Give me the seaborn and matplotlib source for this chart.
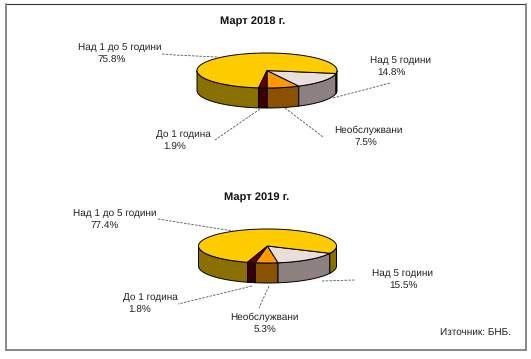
import numpy as np
import pandas as pd
import seaborn as sns
import matplotlib
matplotlib.use("Agg")
import matplotlib.pyplot as plt

# ---- data ----
categories = ["Необслужвани", "Над 5 години", "Над 1 до 5 години", "До 1 година"]
values_2018 = [7.5, 14.8, 75.8, 1.9]
values_2019 = [5.3, 15.5, 77.4, 1.8]
titles = ["Март 2018 г.", "Март 2019 г."]
source = "Източник: БНБ."

top_colors = ["#FF9900", "#E8DEDA", "#FFCC00", "#660000"]
side_colors = ["#8A5200", "#8C8080", "#8A7000", "#3A0000"]

sns.set_theme(style="white")
plt.rcParams["font.family"] = ["Liberation Sans", "DejaVu Sans"]
plt.rcParams["text.hinting"] = "none"

df = pd.DataFrame({
    "category": categories * 2,
    "share": values_2018 + values_2019,
    "period": [titles[0]] * 4 + [titles[1]] * 4,
})

fig = plt.figure(figsize=(5.31, 3.59), dpi=100, facecolor="white")
ax = fig.add_axes([0, 0, 1, 1])
ax.set_xlim(0, 531)
ax.set_ylim(359, 0)
ax.axis("off")

tops = sns.color_palette(top_colors)
sides = sns.color_palette(side_colors)


def point(cx, cy, rx, ry, t):
    t = np.radians(t)
    return cx + rx * np.sin(t), cy + ry * np.cos(t)


def pie3d(values, cx, cy, rx, ry, depth, start):
    spans = np.array(values) * 3.6
    edges = start + np.concatenate([[0], np.cumsum(spans)])
    # side walls: only the front half (-90..90 and 270..450) is visible
    for i in range(len(values)):
        for lo, hi in [(-90, 90), (270, 450)]:
            a, b = max(edges[i], lo), min(edges[i + 1], hi)
            if b <= a:
                continue
            t = np.linspace(a, b, 60)
            x, y = point(cx, cy, rx, ry, t)
            ax.fill(np.r_[x, x[::-1]], np.r_[y, y[::-1] + depth],
                    facecolor=sides[i], edgecolor="black", lw=0.7, zorder=2)
    for i in range(len(values)):
        t = np.linspace(edges[i], edges[i + 1], 120)
        x, y = point(cx, cy, rx, ry, t)
        ax.fill(np.r_[cx, x], np.r_[cy, y], facecolor=tops[i],
                edgecolor="black", lw=0.7, zorder=3)


d18 = df[df.period == titles[0]].share.tolist()
d19 = df[df.period == titles[1]].share.tolist()
pie3d(d18, 267, 70.5, 70, 17.5, 20, 0)
pie3d(d19, 267.5, 246, 69, 17, 20, -10.3)

txt = dict(fontsize=7.2, color="#222222", va="center", ha="center")
ax.text(253, 21, titles[0], fontweight="bold", **{**txt, "fontsize": 8, "color": "#111111"})
ax.text(256.5, 197, titles[1], fontweight="bold", **{**txt, "fontsize": 8, "color": "#111111"})

# (label centre x, y, percent centre x) per category
lab18 = [(368, 130, 366), (400.5, 60, 391), (120, 47, 112), (183, 134, 175)]
lab19 = [(264, 317, 265), (403, 273, 403), (115, 213, 105), (150, 297, 140)]
for labs, vals in ((lab18, d18), (lab19, d19)):
    for (lx, ly, px), name, v in zip(labs, categories, vals):
        ax.text(lx, ly, name, **txt)
        ax.text(px, ly + 13, f"{v}%", **txt)

ax.text(440, 332, source, fontsize=7.2, color="#222222", va="center", ha="left")

leaders = [
    [(162, 54), (175, 55), (217, 57)],
    [(333, 98), (390, 83)],
    [(285, 108), (323, 137)],
    [(260, 109), (215, 140)],
    [(158, 219), (233, 231)],
    [(322, 281), (355, 280)],
    [(269, 286), (259, 308)],
    [(252, 286), (178, 304)],
]
for line in leaders:
    xs, ys = zip(*line)
    ax.plot(xs, ys, color="#555555", lw=0.6, ls=(0, (3, 1.5)), zorder=1)

# frame
ax.plot([6, 526], [4, 4], color="#333333", lw=0.8, zorder=5)
ax.plot([6, 6], [4, 350], color="#808080", lw=1.3, zorder=5)
ax.plot([526, 526], [4, 350], color="#808080", lw=1.3, zorder=5)
ax.plot([6, 526], [350, 350], color="#808080", lw=1.3, zorder=5)

fig.savefig("out.png", dpi=100, facecolor="white")
